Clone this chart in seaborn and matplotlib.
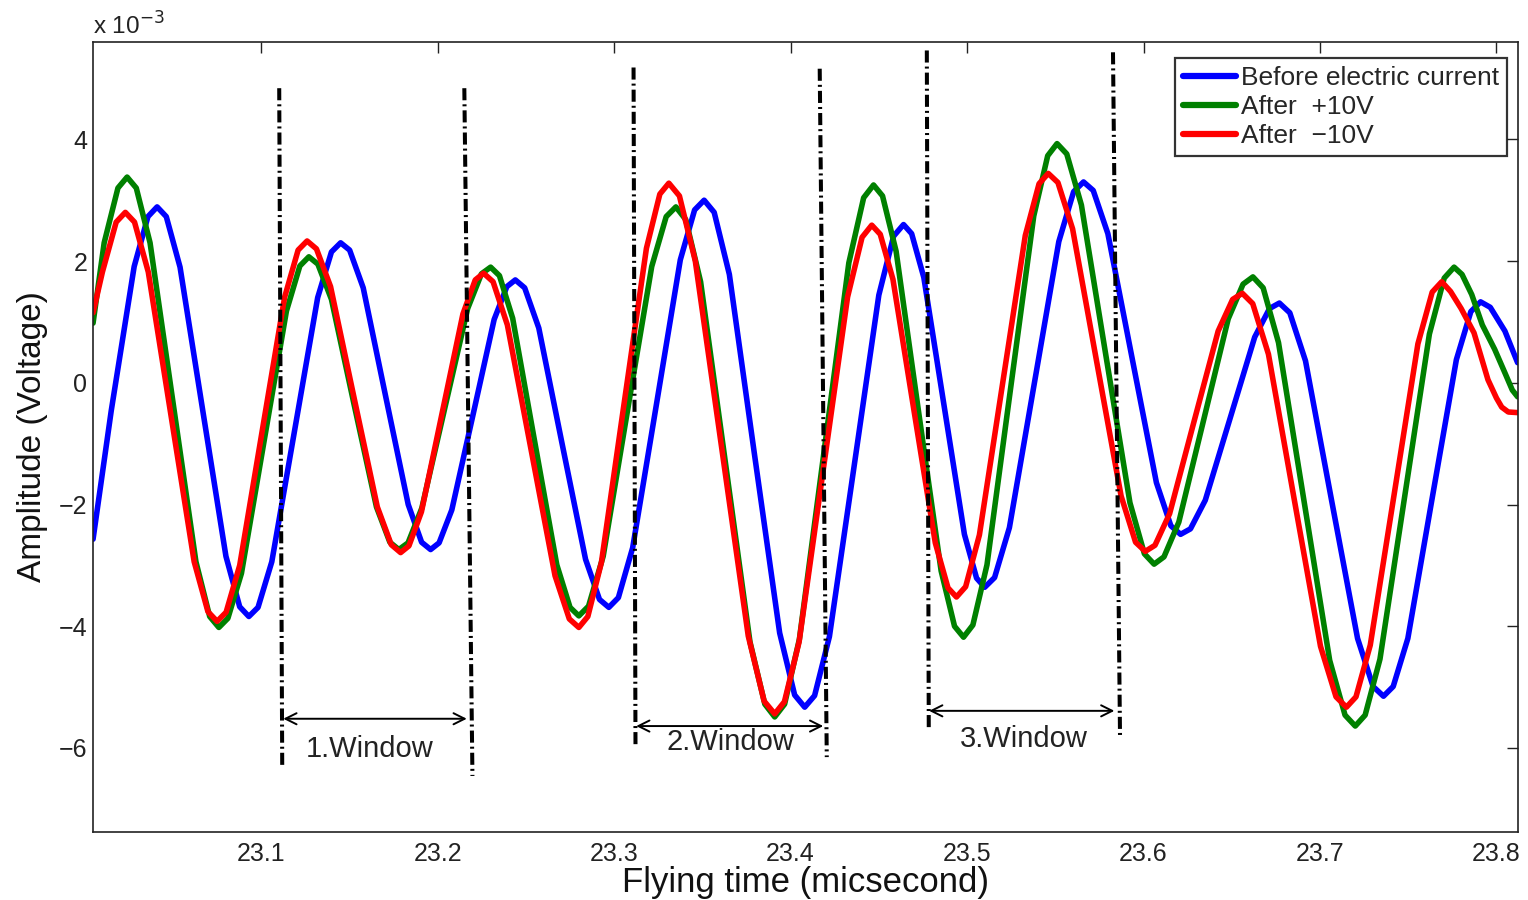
import matplotlib
matplotlib.use("Agg")
import matplotlib.pyplot as plt
import seaborn as sns
import pandas as pd

# ---------------- data (amplitude in units of 1e-3 V) ----------------
t_before = [23.0047, 23.015, 23.028, 23.0358, 23.041, 23.0462, 23.054, 23.067, 23.080, 23.0878,
            23.093, 23.0982, 23.106, 23.119, 23.132, 23.1398, 23.145, 23.1501, 23.1578, 23.1705,
            23.1833, 23.1909, 23.196, 23.2008, 23.208, 23.220, 23.232, 23.2392, 23.244, 23.2493,
            23.2573, 23.2705, 23.2838, 23.2917, 23.297, 23.3024, 23.3105, 23.324, 23.3375, 23.3456,
            23.351, 23.3567, 23.3653, 23.3795, 23.3938, 23.4023, 23.408, 23.4136, 23.422, 23.436,
            23.450, 23.4584, 23.464, 23.4686, 23.4755, 23.487, 23.4985, 23.5054, 23.510, 23.5156,
            23.524, 23.538, 23.552, 23.5604, 23.566, 23.5715, 23.5798, 23.5935, 23.6073, 23.6155,
            23.621, 23.6266, 23.635, 23.649, 23.663, 23.6714, 23.677, 23.6829, 23.6918, 23.7065,
            23.7213, 23.7301, 23.736, 23.7415, 23.7498, 23.7635, 23.7773, 23.7855, 23.791, 23.7965,
            23.8048, 23.812]
v_before = [-2.57, -0.46, 1.91, 2.73, 2.89, 2.73, 1.90, -0.48, -2.85, -3.68,
            -3.84, -3.69, -2.94, -0.77, 1.40, 2.15, 2.30, 2.18, 1.56, -0.22,
            -2.00, -2.62, -2.74, -2.63, -2.09, -0.53, 1.04, 1.58, 1.69, 1.56,
            0.90, -1.00, -2.90, -3.56, -3.69, -3.53, -2.71, -0.35, 2.02, 2.84,
            3.00, 2.80, 1.78, -1.17, -4.11, -5.13, -5.33, -5.14, -4.17, -1.37,
            1.44, 2.41, 2.60, 2.45, 1.73, -0.38, -2.49, -3.21, -3.36, -3.20,
            -2.38, -0.03, 2.32, 3.14, 3.30, 3.16, 2.45, 0.41, -1.64, -2.35,
            -2.49, -2.40, -1.93, -0.59, 0.75, 1.22, 1.31, 1.15, 0.36, -1.92,
            -4.20, -4.99, -5.15, -4.99, -4.20, -1.91, 0.38, 1.17, 1.33, 1.24,
            0.85, 0.33]

t_plus = [23.0047, 23.011, 23.0188, 23.024, 23.0292, 23.037, 23.050, 23.063, 23.0708, 23.076,
          23.0811, 23.0888, 23.1015, 23.1143, 23.1219, 23.127, 23.1321, 23.1398, 23.1525, 23.1653,
          23.1729, 23.178, 23.1832, 23.191, 23.204, 23.217, 23.2248, 23.230, 23.235, 23.2425,
          23.255, 23.2675, 23.275, 23.280, 23.2855, 23.2938, 23.3075, 23.3213, 23.3295, 23.335,
          23.3406, 23.349, 23.363, 23.377, 23.3854, 23.391, 23.3966, 23.405, 23.419, 23.433,
          23.4414, 23.447, 23.4521, 23.4598, 23.4725, 23.4853, 23.4929, 23.498, 23.5033, 23.5113,
          23.5245, 23.5378, 23.5457, 23.551, 23.5565, 23.5648, 23.5785, 23.5923, 23.6005, 23.606,
          23.6116, 23.620, 23.634, 23.648, 23.6564, 23.662, 23.6678, 23.6765, 23.691, 23.7055,
          23.7142, 23.720, 23.7256, 23.734, 23.748, 23.762, 23.7704, 23.776, 23.7805, 23.786,
          23.792, 23.799, 23.805, 23.809, 23.812]
v_plus = [0.98, 2.30, 3.20, 3.38, 3.20, 2.30, -0.32, -2.94, -3.84, -4.02,
          -3.87, -3.13, -0.98, 1.18, 1.92, 2.07, 1.95, 1.37, -0.34, -2.04,
          -2.62, -2.74, -2.63, -2.06, -0.42, 1.22, 1.79, 1.90, 1.76, 1.06,
          -0.97, -2.99, -3.69, -3.83, -3.67, -2.85, -0.47, 1.91, 2.73, 2.89,
          2.68, 1.66, -1.30, -4.26, -5.28, -5.49, -5.28, -4.21, -1.12, 1.97,
          3.04, 3.25, 3.07, 2.16, -0.47, -3.09, -4.00, -4.18, -3.98, -2.99,
          -0.13, 2.74, 3.73, 3.93, 3.76, 2.92, 0.48, -1.97, -2.81, -2.98,
          -2.86, -2.29, -0.62, 1.05, 1.62, 1.74, 1.56, 0.66, -1.95, -4.56,
          -5.46, -5.64, -5.46, -4.54, -1.87, 0.80, 1.72, 1.90, 1.78, 1.45,
          0.95, 0.55, 0.15, -0.12, -0.23]

t_minus = [23.0047, 23.010, 23.0178, 23.023, 23.0282, 23.036, 23.049, 23.062, 23.0698, 23.075,
           23.0801, 23.0878, 23.1005, 23.1133, 23.1209, 23.126, 23.1313, 23.1393, 23.1525, 23.1658,
           23.1737, 23.179, 23.1837, 23.1908, 23.2025, 23.2143, 23.2213, 23.226, 23.2314, 23.2395,
           23.253, 23.2665, 23.2746, 23.280, 23.2851, 23.2928, 23.3055, 23.3183, 23.3259, 23.331,
           23.337, 23.346, 23.361, 23.376, 23.385, 23.391, 23.3965, 23.4048, 23.4185, 23.4323,
           23.4405, 23.446, 23.4508, 23.458, 23.470, 23.482, 23.4892, 23.494, 23.4992, 23.507,
           23.520, 23.533, 23.5408, 23.546, 23.5515, 23.5598, 23.5735, 23.5873, 23.5955, 23.601,
           23.6065, 23.6148, 23.6285, 23.6423, 23.6505, 23.656, 23.6619, 23.6708, 23.6855, 23.7003,
           23.7091, 23.715, 23.7204, 23.7285, 23.742, 23.7555, 23.7636, 23.769, 23.774, 23.780,
           23.7873, 23.7952, 23.800, 23.803, 23.8067, 23.812]
v_minus = [1.15, 1.82, 2.64, 2.80, 2.64, 1.82, -0.56, -2.94, -3.76, -3.92,
           -3.77, -3.00, -0.80, 1.41, 2.18, 2.33, 2.20, 1.58, -0.23, -2.04,
           -2.66, -2.79, -2.68, -2.12, -0.50, 1.13, 1.69, 1.80, 1.66, 0.95,
           -1.11, -3.17, -3.88, -4.02, -3.84, -2.95, -0.37, 2.21, 3.10, 3.28,
           3.07, 2.00, -1.08, -4.16, -5.23, -5.44, -5.24, -4.26, -1.43, 1.41,
           2.39, 2.59, 2.44, 1.70, -0.47, -2.63, -3.37, -3.52, -3.35, -2.50,
           -0.04, 2.42, 3.27, 3.44, 3.29, 2.53, 0.34, -1.86, -2.62, -2.77,
           -2.67, -2.15, -0.65, 0.85, 1.37, 1.47, 1.30, 0.47, -1.93, -4.33,
           -5.16, -5.33, -5.16, -4.31, -1.84, 0.64, 1.49, 1.66, 1.50, 1.22,
           0.82, 0.05, -0.25, -0.40, -0.48, -0.49]

series_labels = ["Before electric current", "After  +10V", "After  \u221210V"]
series_colors = ["#0000FF", "#008000", "#FF0000"]

# window markers (vertical dash-dot lines)
win_labels = ["1.Window", "2.Window", "3.Window"]
win_left_x_top = [23.1102, 23.3110, 23.4772]
win_left_x_bot = [23.1119, 23.3121, 23.4783]
win_left_y_top = [4.84, 5.18, 5.46]
win_left_y_bot = [-6.30, -5.97, -5.69]
win_right_x_top = [23.2151, 23.4165, 23.5827]
win_right_x_bot = [23.2197, 23.4205, 23.5867]
win_right_y_top = [4.84, 5.16, 5.43]
win_right_y_bot = [-6.46, -6.15, -5.85]
arrow_y = [-5.52, -5.64, -5.39]
arrow_x0 = [23.1125, 23.3125, 23.4785]
arrow_x1 = [23.2165, 23.4185, 23.5835]
label_x = [23.1615, 23.366, 23.532]
label_y = [-6.02, -5.90, -5.85]

x_ticks = [23.1, 23.2, 23.3, 23.4, 23.5, 23.6, 23.7, 23.8]
y_ticks = [-6, -4, -2, 0, 2, 4]

# ---------------- plotting ----------------
sns.set_style("white")
plt.rcParams["font.family"] = ["Liberation Sans", "DejaVu Sans"]
plt.rcParams["axes.unicode_minus"] = True

fig = plt.figure(figsize=(15.28, 9), dpi=100)
ax = fig.add_axes([0.0609, 0.0756, 0.9323, 0.8778])

frames = []
for t, v, lab in [(t_before, v_before, series_labels[0]),
                  (t_plus, v_plus, series_labels[1]),
                  (t_minus, v_minus, series_labels[2])]:
    frames.append(pd.DataFrame({"t": t, "v": v, "series": lab}))
df = pd.concat(frames, ignore_index=True)

sns.lineplot(data=df, x="t", y="v", hue="series", hue_order=series_labels,
             palette=series_colors, sort=False, estimator=None, linewidth=4.0,
             ax=ax, legend=True)

dash_style = (0, (3.0, 1.0, 0.5, 1.0))
for i in range(3):
    ax.plot([win_left_x_top[i], win_left_x_bot[i]], [win_left_y_top[i], win_left_y_bot[i]],
            color="black", lw=2.9, linestyle=dash_style, zorder=5)
    ax.plot([win_right_x_top[i], win_right_x_bot[i]], [win_right_y_top[i], win_right_y_bot[i]],
            color="black", lw=2.9, linestyle=dash_style, zorder=5)
    ax.annotate("", xy=(arrow_x1[i], arrow_y[i]), xytext=(arrow_x0[i], arrow_y[i]),
                arrowprops=dict(arrowstyle="<->", lw=1.4, color="black",
                                mutation_scale=20, shrinkA=0, shrinkB=0), zorder=6)
    ax.text(label_x[i], label_y[i], win_labels[i], ha="center", va="center",
            fontsize=21, color="#222222", zorder=6)

ax.set_xlim(23.0047, 23.812)
ax.set_ylim(-7.38, 5.60)
ax.set_xticks(x_ticks)
ax.set_xticklabels([f"{x:.1f}" for x in x_ticks])
ax.set_yticks(y_ticks)
ax.set_yticklabels([f"{y:d}".replace("-", "\u2212") for y in y_ticks])
ax.tick_params(direction="in", top=True, right=True, length=8, width=1.0,
               labelsize=18, colors="#222222")
ax.tick_params(axis="x", pad=7)
ax.tick_params(axis="y", pad=4)
for s in ax.spines.values():
    s.set_visible(True)
    s.set_color("#222222")
    s.set_linewidth(1.2)

ax.set_xlabel("Flying time (micsecond)", fontsize=25, labelpad=0, color="#111111")
ax.set_ylabel("Amplitude (Voltage)", fontsize=24, labelpad=8, color="#111111")
fig.text(93 / 1528, 1 - 26 / 900, r"x 10$^{-3}$", fontsize=17.5, ha="left", va="center",
         color="#222222")

leg = ax.legend(loc="upper right", bbox_to_anchor=(0.9926, 0.9797), borderaxespad=0,
                fontsize=19, frameon=True, fancybox=False, edgecolor="black",
                handlelength=2.0, handletextpad=0.2, labelspacing=0.2,
                borderpad=0.3, title=None)
leg.get_frame().set_linewidth(1.6)
for line in leg.get_lines():
    line.set_linewidth(4.5)

fig.savefig("out.png", dpi=100)
